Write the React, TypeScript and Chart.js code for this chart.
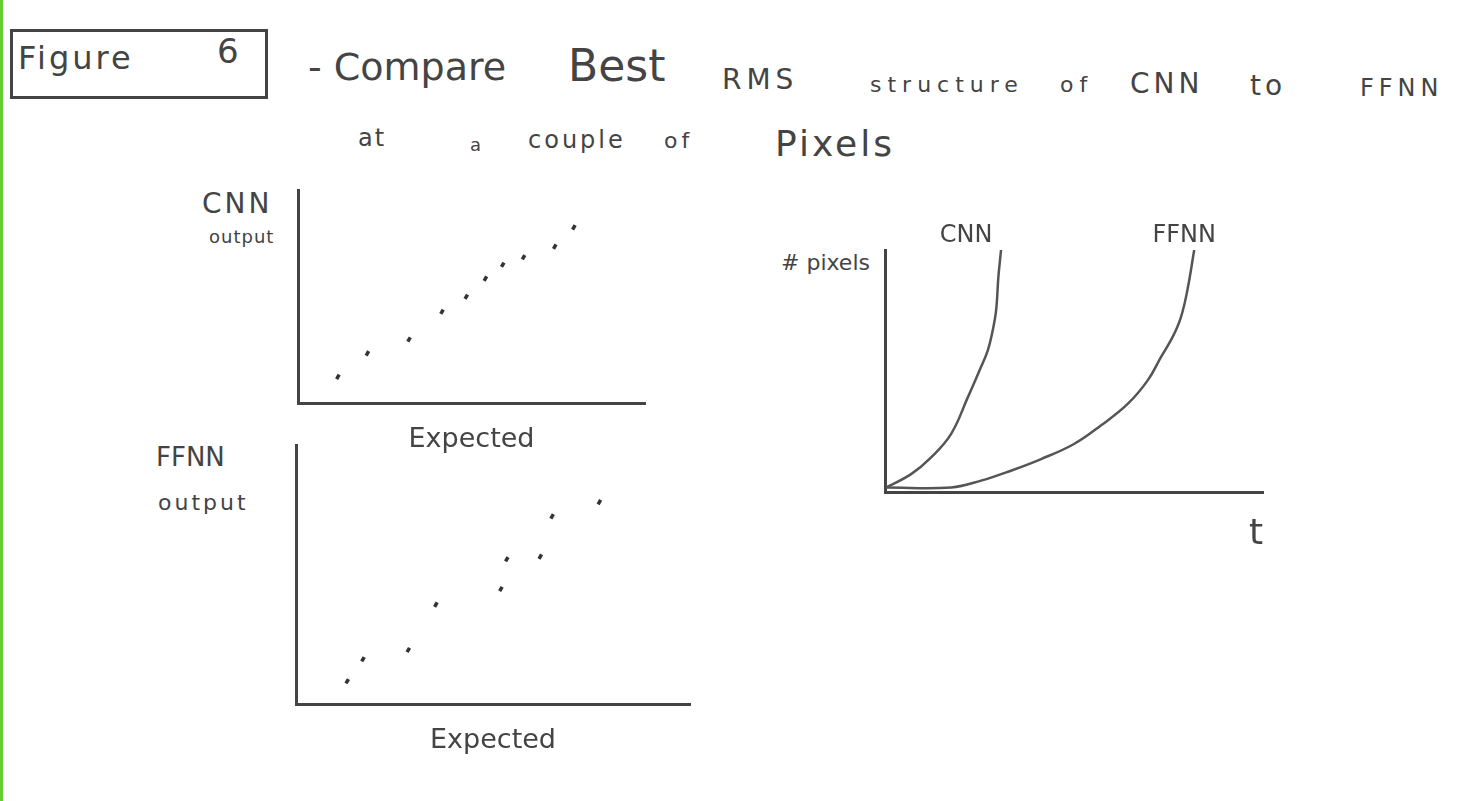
import { useEffect, useRef } from "react"
import { Chart, registerables } from "chart.js"

Chart.register(...registerables)

// CNN output vs expected (hand drawn dots)
const cnnExpected = [1.15, 2.0, 3.2, 4.15, 4.85, 5.4, 5.9, 6.5, 7.4, 7.95]
const cnnOutput = [1.25, 2.35, 3.0, 4.3, 5.0, 5.85, 6.5, 6.85, 7.35, 8.25]

// FFNN output vs expected
const ffnnExpected = [1.3, 1.7, 2.85, 3.55, 5.2, 5.35, 6.2, 6.5, 7.7]
const ffnnOutput = [0.9, 1.75, 2.1, 3.85, 4.45, 5.6, 5.7, 7.25, 7.8]

// # pixels vs t curves
const cnnT = [0.03, 0.69, 1.22, 1.75, 2.19, 2.5, 2.72, 2.85, 2.94, 3.0, 3.07]
const cnnPixels = [0.22, 0.77, 1.46, 2.43, 3.93, 5.04, 5.87, 6.69, 7.52, 8.9, 10]
const ffnnT = [0.03, 1.75, 2.54, 3.33, 4.13, 5.0, 5.71, 6.42, 6.95, 7.3, 7.61, 7.83, 8.0, 8.18]
const ffnnPixels = [0.22, 0.22, 0.5, 0.91, 1.39, 2.01, 2.77, 3.66, 4.63, 5.59, 6.42, 7.24, 8.35, 10]

const INK = "#444"
const FONT = "'DejaVu Sans', sans-serif"

const pts = (xs: number[], ys: number[]) => xs.map((x, i) => ({ x, y: ys[i] }))

// draws the dataset label just above the top of its curve
const labelShift = [-35, -10]
const curveLabels = {
  id: "curveLabels",
  afterDatasetsDraw(chart: Chart) {
    const ctx = chart.ctx
    ctx.save()
    ctx.font = `24px ${FONT}`
    ctx.fillStyle = INK
    ctx.textAlign = "center"
    ctx.textBaseline = "bottom"
    chart.data.datasets.forEach((ds, i) => {
      const meta = chart.getDatasetMeta(i)
      const last = meta.data[meta.data.length - 1]
      if (last) ctx.fillText(ds.label || "", last.x + labelShift[i], last.y - 2)
    })
    ctx.restore()
  },
}

function axisScale(title: string, showTitle: boolean, max: number) {
  return {
    type: "linear" as const,
    min: 0,
    max,
    grid: { display: false },
    ticks: { display: false },
    border: { color: INK, width: 3 },
    title: {
      display: showTitle,
      text: title,
      color: INK,
      font: { family: FONT, size: 27 },
      padding: { top: 12 },
    },
  }
}

function DotPlot({ xs, ys, padding }: { xs: number[]; ys: number[]; padding: any }) {
  const ref = useRef<HTMLCanvasElement>(null)
  useEffect(() => {
    if (!ref.current) return
    const chart = new Chart(ref.current, {
      type: "scatter",
      data: {
        datasets: [
          {
            data: pts(xs, ys),
            pointStyle: "line",
            rotation: -60,
            pointRadius: 2.5,
            borderWidth: 3.5,
            borderColor: "#333",
            backgroundColor: "#333",
          },
        ],
      },
      options: {
        animation: false,
        responsive: true,
        maintainAspectRatio: false,
        layout: { padding },
        plugins: { legend: { display: false }, tooltip: { enabled: false } },
        scales: { x: axisScale("Expected", true, 10), y: axisScale("", false, 10) },
      },
    })
    return () => chart.destroy()
  }, [])
  return <canvas ref={ref} />
}

function GrowthPlot() {
  const ref = useRef<HTMLCanvasElement>(null)
  useEffect(() => {
    if (!ref.current) return
    const line = {
      showLine: true,
      tension: 0.4,
      pointRadius: 0,
      borderWidth: 2.5,
      borderColor: "#555",
    }
    const chart = new Chart(ref.current, {
      type: "scatter",
      data: {
        datasets: [
          { label: "CNN", data: pts(cnnT, cnnPixels), ...line },
          { label: "FFNN", data: pts(ffnnT, ffnnPixels), ...line },
        ],
      },
      options: {
        animation: false,
        responsive: true,
        maintainAspectRatio: false,
        layout: { padding: { left: 4, top: 40, right: 10, bottom: 0 } },
        plugins: { legend: { display: false }, tooltip: { enabled: false } },
        scales: {
          x: {
            ...axisScale("t", true, 10),
            title: {
              display: true,
              text: "t",
              align: "end" as const,
              color: INK,
              font: { family: FONT, size: 36 },
              padding: { top: 12 },
            },
          },
          y: axisScale("", false, 10),
        },
      },
      plugins: [curveLabels],
    })
    return () => chart.destroy()
  }, [])
  return <canvas ref={ref} />
}

const txt = (left: number, top: number, size: number, s: string, spacing = 0) => (
  <div
    style={{
      position: "absolute",
      left,
      top,
      fontSize: size,
      fontFamily: FONT,
      color: INK,
      whiteSpace: "nowrap",
      lineHeight: 1,
      letterSpacing: spacing,
    }}
  >
    {s}
  </div>
)

export default function App() {
  useEffect(() => {
    document.body.style.margin = "0"
  }, [])
  return (
    <div
      style={{
        position: "relative",
        width: 1467,
        height: 801,
        background: "#fff",
        borderLeft: "3px solid #6c3",
        boxSizing: "border-box",
        overflow: "hidden",
      }}
    >
      <div style={{ position: "absolute", left: 7, top: 29, width: 252, height: 64, border: `3px solid ${INK}` }} />
      {txt(15, 42, 32, "Figure", 3)}
      {txt(214, 34, 34, "6")}
      {txt(305, 48, 38, "- Compare")}
      {txt(565, 44, 44, "Best")}
      {txt(719, 66, 28, "RMS", 5)}
      {txt(867, 74, 22, "structure", 6)}
      {txt(1057, 74, 22, "of", 6)}
      {txt(1127, 70, 28, "CNN", 4)}
      {txt(1247, 72, 28, "to", 4)}
      {txt(1357, 76, 24, "FFNN", 5)}
      {txt(355, 126, 24, "at", 2)}
      {txt(467, 136, 18, "a")}
      {txt(525, 128, 24, "couple", 3)}
      {txt(661, 130, 22, "of", 4)}
      {txt(772, 126, 36, "Pixels", 3)}

      {txt(199, 190, 28, "CNN", 3)}
      {txt(206, 228, 18, "output", 1)}
      {txt(153, 444, 26, "FFNN")}
      {txt(155, 492, 22, "output", 3)}
      {txt(778, 252, 22, "# pixels")}

      <div style={{ position: "absolute", left: 281, top: 180, width: 376, height: 280 }}>
        <DotPlot xs={cnnExpected} ys={cnnOutput} padding={{ left: 6, top: 10, right: 15, bottom: 0 }} />
      </div>
      <div style={{ position: "absolute", left: 279, top: 435, width: 416, height: 326 }}>
        <DotPlot xs={ffnnExpected} ys={ffnnOutput} padding={{ left: 6, top: 10, right: 8, bottom: 0 }} />
      </div>
      <div style={{ position: "absolute", left: 870, top: 210, width: 400, height: 350 }}>
        <GrowthPlot />
      </div>
    </div>
  )
}
